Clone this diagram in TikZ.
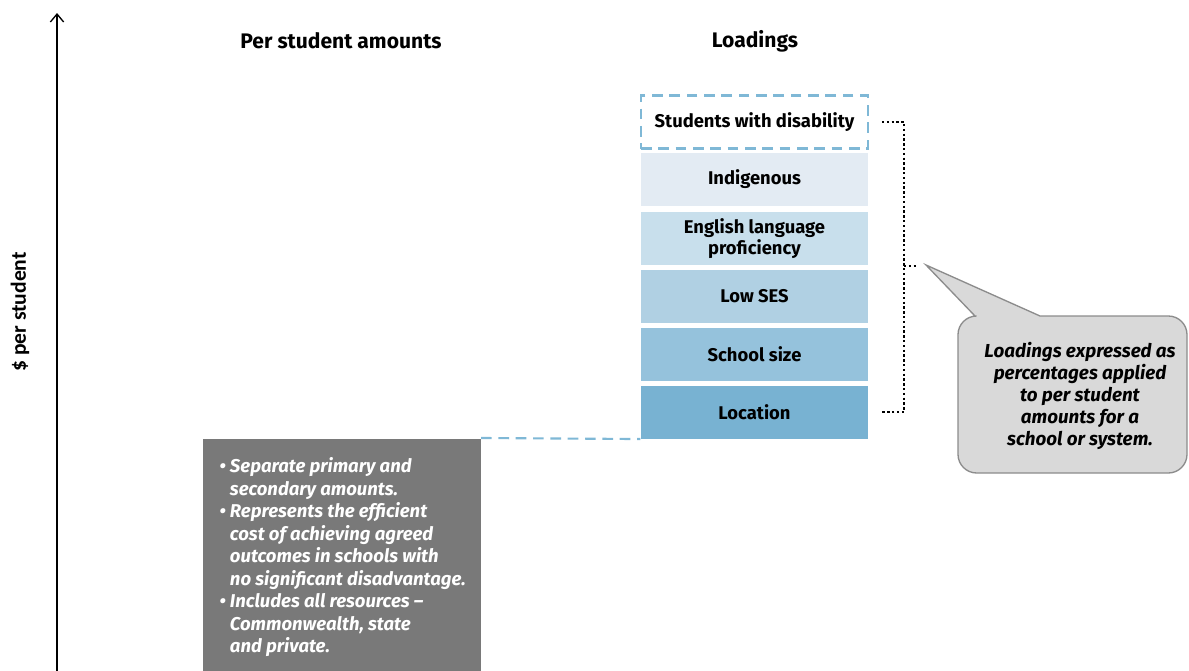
\documentclass[tikz,border=0pt]{standalone}
\usepackage{fontspec}
\setmainfont{Fira Sans}
\newfontfamily\axisfont{Carlito}
\usepackage{xcolor}
\usetikzlibrary{arrows.meta}

\definecolor{dashblue}{HTML}{7FB8D6}
\definecolor{loadA}{HTML}{E3EBF3}
\definecolor{loadB}{HTML}{C8DFEC}
\definecolor{loadC}{HTML}{B0D0E3}
\definecolor{loadD}{HTML}{95C2DC}
\definecolor{loadE}{HTML}{78B2D2}
\definecolor{basegrey}{HTML}{797979}
\definecolor{notefill}{HTML}{D9D9D9}
\definecolor{noteline}{HTML}{8C8C8C}

\newcommand{\bl}{\textbullet\ }
\newcommand{\ind}{\phantom{\textbullet\ }}

\begin{document}
\begin{tikzpicture}[
    x=0.75pt, y=-0.75pt,
    loadbox/.style={rectangle, minimum width=170.25pt, minimum height=39.75pt,
        inner sep=2pt, align=center, font=\fontsize{13.8}{15.5}\selectfont\bfseries},
    heading/.style={font=\fontsize{15.8}{18}\selectfont\bfseries},
    dashline/.style={dashblue, line width=1.6pt, dash pattern=on 8pt off 5pt},
    bracket/.style={black, line width=2pt, dash pattern=on 1.8pt off 1.8pt},
    thick
    ]
    \useasboundingbox (0,0) rectangle (1189,671);

    % axis
    \coordinate (axbot) at (57,671);
    \coordinate (axtop) at (57,13);
    \draw[-{Straight Barb[length=6pt,width=10pt]}, line width=1pt] (axbot) -- (axtop);
    \node[rotate=90, font=\axisfont\fontsize{16.2}{19}\selectfont\bfseries] (ylab) at (20,312) {\$ per student};

    \node[heading] (perhead) at (341,41) {Per student amounts};
    \node[heading] (loadhead) at (755,41) {Loadings};

    % loadings
    \node[loadbox, draw=dashblue, line width=1.6pt, dash pattern=on 8pt off 5pt] (swd) at (754.5,122) {Students with disability};
    \node[loadbox, fill=loadA] (indig) at (754.5,179.5) {Indigenous};
    \node[loadbox, fill=loadB] (english) at (754.5,238.5) {English language\\proficiency};
    \node[loadbox, fill=loadC] (ses) at (754.5,296.5) {Low SES};
    \node[loadbox, fill=loadD] (size) at (754.5,354.5) {School size};
    \node[loadbox, fill=loadE] (location) at (754.5,412) {Location};

    % base amount
    \node[rectangle, fill=basegrey, anchor=north west, minimum width=208.5pt, minimum height=175pt,
          inner sep=0pt] (base) at (202,438) {};
    \node[anchor=north west, align=left, text=white, inner sep=0pt,
          font=\fontsize{13.9}{16.9}\selectfont\bfseries\itshape] (basetext) at (219,457)
        {\bl Separate primary and\\
         \ind secondary amounts.\\
         \bl Represents the efficient\\
         \ind cost of achieving agreed\\
         \ind outcomes in schools with\\
         \ind no significant disadvantage.\\
         \bl Includes all resources --\\
         \ind Commonwealth, state\\
         \ind and private.};
    \draw[dashline] (base.north east) -- (location.south west);

    % bracket and callout
    \coordinate (bkt) at (904,266);
    \draw[bracket] ([xshift=9.75pt]swd.east) -| (bkt) |- ([xshift=9.75pt]location.east);
    \draw[bracket] (bkt) -- ++(12,0);

    \draw[fill=notefill, draw=noteline, line width=1pt]
        (926,265) -- (1040,316) [rounded corners=14pt] -- (1187,316) -- (1187,473)
        -- (958,473) -- (958,316) [sharp corners] -- (975,316) -- cycle;
    \node[align=center, font=\fontsize{14.1}{16.5}\selectfont\bfseries\itshape] (note) at (1080,396)
        {Loadings expressed as\\percentages applied\\to per student\\amounts for a\\school or system.};

\end{tikzpicture}
\end{document}
